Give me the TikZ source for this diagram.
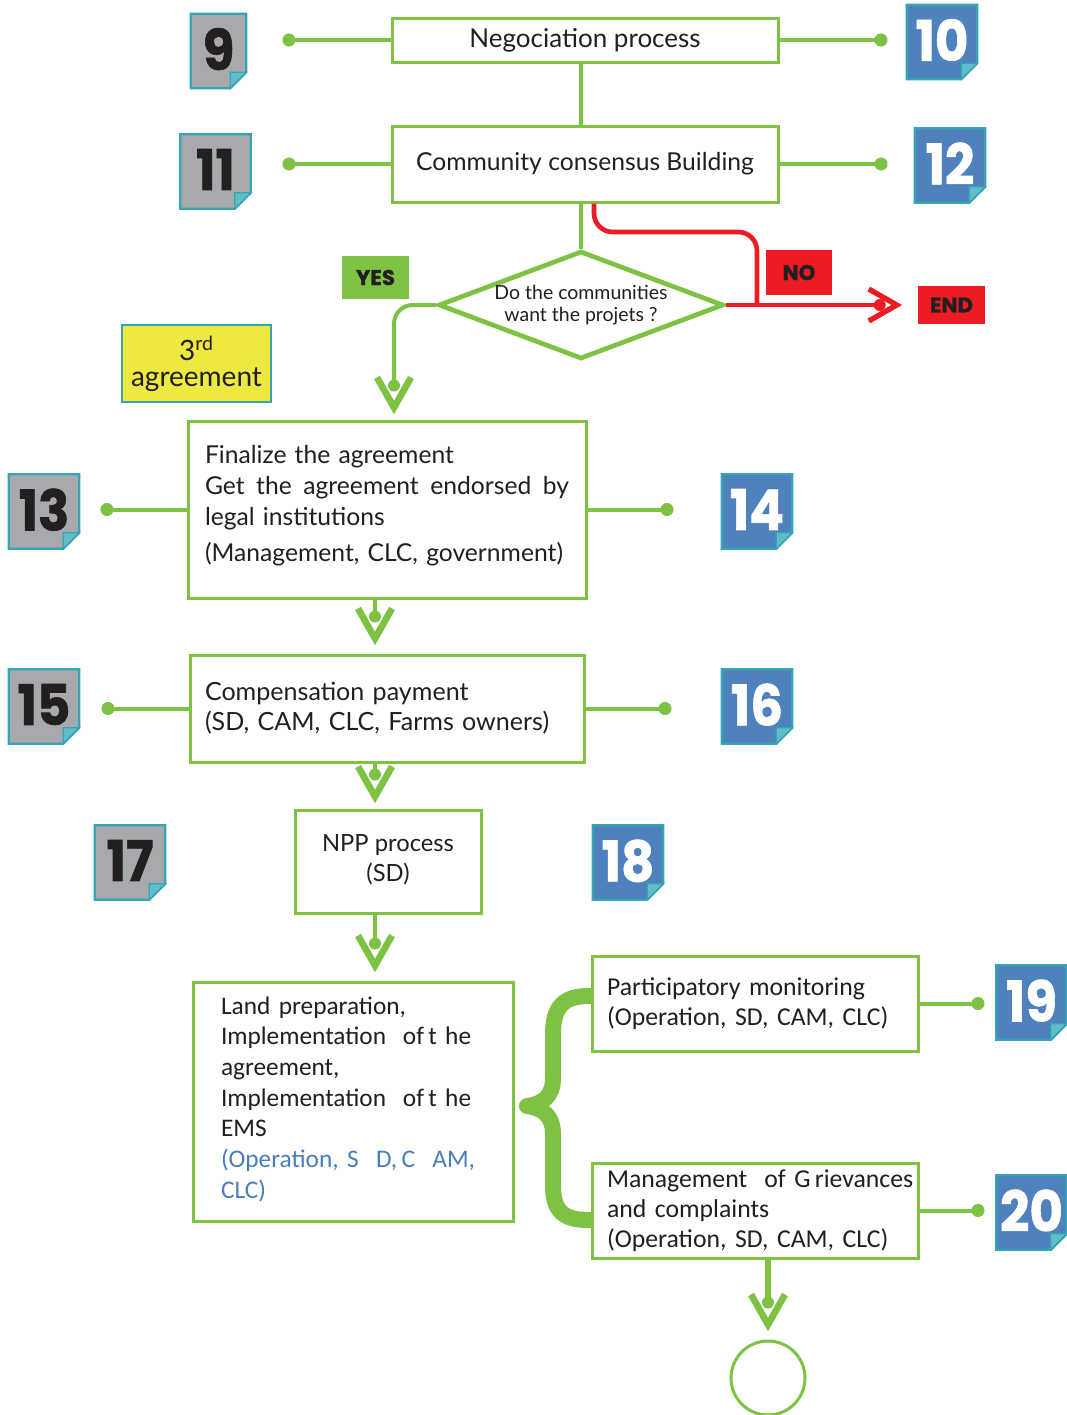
\documentclass[tikz,border=0pt]{standalone}
\usepackage{fontspec}
\usetikzlibrary{calc,shapes.geometric}
\setmainfont{Lato}
\newfontfamily\popfont{Poppins}[BoldFeatures={FakeBold=1.2}]
\newfontfamily\calfont{Carlito}
\definecolor{gcol}{RGB}{125,194,66}
\definecolor{rcol}{RGB}{237,28,36}
\definecolor{tgray}{RGB}{167,169,172}
\definecolor{tblue}{RGB}{79,129,189}
\definecolor{tealc}{RGB}{52,165,181}
\definecolor{tealL}{RGB}{96,190,200}
\definecolor{ylw}{RGB}{237,233,64}
\definecolor{txt}{RGB}{35,31,32}
\definecolor{btxt}{RGB}{74,126,187}
\pgfdeclarelayer{bg}\pgfsetlayers{bg,main}
\tikzset{
 box/.style={draw=gcol, line width=2.25pt, fill=white, text=txt, inner sep=0pt},
 gline/.style={draw=gcol, line width=3pt},
 rline/.style={draw=rcol, line width=3.5pt},
 chev/.style={draw=gcol, line width=5pt, miter limit=10},
 rchev/.style={draw=rcol, line width=4pt, miter limit=10},
 tagbox/.style={minimum width=52.5pt, minimum height=55.5pt, inner sep=0pt, font=\popfont\bfseries\fontsize{42}{42}\selectfont},
 lbl/.style={inner sep=0pt, font=\popfont\bfseries\fontsize{16}{16}\selectfont, text=txt},
}
\newcommand\numtag[5][52.5pt]{%
 \node[tagbox, minimum width=#1] (#2) at (#3) {\raisebox{3pt}{\scalebox{0.92}[1]{#5}}};
 \begin{pgfonlayer}{bg}
 \filldraw[fill=#4, draw=tealc, line width=1.8pt, line join=miter] (#2.north west) -- (#2.north east) -- ($(#2.south east)+(0,-16)$) -- ($(#2.south east)+(-16,0)$) -- (#2.south west) -- cycle;
 \filldraw[fill=tealL, draw=tealc, line width=1pt] ($(#2.south east)+(-16,0)$) -- ($(#2.south east)+(-16,-16)$) -- ($(#2.south east)+(0,-16)$) -- cycle;
 \end{pgfonlayer}}
\newcommand\gchev[1]{%
 \fill[gcol] ($(#1)+(0,-22)$) circle (4.5pt);
 \draw[chev] ($(#1)+(-17,-30)$) -- (#1) -- ($(#1)+(17,-30)$);}
\begin{document}
\begin{tikzpicture}[x=0.75pt,y=-0.75pt]
\useasboundingbox (0,0) rectangle (1067,1415);
% boxes
\node[box, minimum width=289.5pt, minimum height=33pt, font=\fontsize{19.5}{22}\selectfont] (neg) at (585,40) {Negociation process};
\node[box, minimum width=289.5pt, minimum height=57pt, font=\fontsize{18.5}{22}\selectfont] (comm) at (585,164) {\raisebox{-3.5pt}{Community consensus Building}};
\node[diamond, aspect=2.64, draw=gcol, line width=3.5pt, fill=white, minimum width=213.75pt, minimum height=81pt, inner sep=0pt, align=center, font=\fontsize{14.6}{16}\selectfont, text=txt] (dia) at (581,305) {Do the communities\\want the projets ?};
\node[box, minimum width=298.5pt, minimum height=132.75pt, text width=273pt, align=left, font=\fontsize{18.5}{23}\selectfont] (fin) at (387,509.5) {Finalize the agreement\\\makebox[273pt][l]{Get\hfill the\hfill agreement\hfill endorsed\hfill by}\\legal institutions\\[4pt](Management, CLC, government)\rule[-9pt]{0pt}{0pt}};
\node[box, minimum width=295.5pt, minimum height=80.25pt, text width=273pt, align=left, font=\fontsize{18.8}{22.5}\selectfont] (comp) at (387,708.5) {Compensation payment\\(SD, CAM, CLC, Farms owners)};
\node[box, minimum width=139.5pt, minimum height=77.25pt, align=center, font=\fontsize{17.8}{22.5}\selectfont] (npp) at (388,861.5) {NPP process\\(SD)\rule[-6pt]{0pt}{0pt}};
\node[box, minimum width=240pt, minimum height=179.25pt, text width=198pt, align=left, font=\calfont\fontsize{19}{23}\selectfont] (land) at (353,1101.5) {\mbox{Land preparation,}\\\mbox{Implementation\ \ of\,t he}\\\mbox{agreement,}\\\mbox{Implementation\ \ of\,t he}\\\mbox{EMS}\\\mbox{\textcolor{btxt}{(Operation, S\hspace{13pt}D,\,C\hspace{13pt}AM,}}\\\mbox{\textcolor{btxt}{CLC)}}\rule[-6pt]{0pt}{0pt}};
\node[box, minimum width=244.5pt, minimum height=71.25pt, text width=222pt, align=left, font=\calfont\fontsize{19.3}{22.5}\selectfont] (mon) at (755,1003.5) {\mbox{Participatory monitoring}\\\mbox{(Operation, SD, CAM, CLC)}};
\node[box, minimum width=244.5pt, minimum height=71.25pt, text width=222pt, align=left, font=\calfont\fontsize{19.3}{22.5}\selectfont] (grv) at (755,1210.5) {\mbox{Management\ \ of G\,rievances}\\\mbox{and complaints}\\\mbox{(Operation, SD, CAM, CLC)}};
\node[circle, draw=gcol, line width=2.25pt, minimum size=55.5pt, inner sep=0pt] (endc) at (768,1378) {};
% labels
\node[lbl, fill=gcol, minimum width=50.25pt, minimum height=32.25pt] (yes) at (375.5,277.5) {YES};
\node[lbl, fill=rcol, minimum width=49.5pt, minimum height=33.75pt] (no) at (799,272.5) {NO};
\node[lbl, fill=rcol, minimum width=50.25pt, minimum height=28.5pt] (end) at (951.5,305) {END};
\node[fill=ylw, draw=tealc, line width=1.5pt, minimum width=111.75pt, minimum height=57.75pt, inner sep=0pt, align=center, font=\fontsize{21}{19.5}\selectfont, text=txt] (third) at (196.5,363.5) {3\textsuperscript{rd}\\agreement};
% tags
\numtag[41.25pt]{t9}{218.5,51}{tgray}{\color{txt}9}
\numtag{t10}{942,42}{tblue}{\color{white}10}
\numtag{t11}{215.5,171.5}{tgray}{\color{txt}11}
\numtag{t12}{950,165.5}{tblue}{\color{white}12}
\numtag{t13}{44,511.5}{tgray}{\color{txt}13}
\numtag{t14}{757,511.5}{tblue}{\color{white}14}
\numtag{t15}{44,706.5}{tgray}{\color{txt}15}
\numtag{t16}{757,706.5}{tblue}{\color{white}16}
\numtag{t17}{130,862.5}{tgray}{\color{txt}17}
\numtag{t18}{628,862.5}{tblue}{\color{white}18}
\numtag{t19}{1031.5,1002.5}{tblue}{\color{white}19}
\numtag{t20}{1031.5,1212.5}{tblue}{\color{white}20}
% tag connectors
\coordinate (d9) at (289,40); \coordinate (d10) at (881,40);
\coordinate (d11) at (289,164); \coordinate (d12) at (881,164);
\coordinate (d13) at (107,509.5); \coordinate (d14) at (667,509.5);
\coordinate (d15) at (108,708.5); \coordinate (d16) at (665,708.5);
\coordinate (d19) at (978,1003.5); \coordinate (d20) at (978,1210.5);
\draw[gline] (d9) -- (neg.west); \draw[gline] (neg.east) -- (d10);
\draw[gline] (d11) -- (comm.west); \draw[gline] (comm.east) -- (d12);
\draw[gline] (d13) -- (fin.west); \draw[gline] (fin.east) -- (d14);
\draw[gline] (d15) -- (comp.west); \draw[gline] (comp.east) -- (d16);
\draw[gline] (mon.east) -- (d19); \draw[gline] (grv.east) -- (d20);
\foreach \d in {d9,d10,d11,d12,d13,d14,d15,d16,d19,d20} \fill[gcol] (\d) circle (4.9pt);
% main vertical
\draw[gline] (neg.south -| dia.north) -- (comm.north -| dia.north);
\draw[gline] (comm.south -| dia.north) -- (dia.north);
% YES branch
\coordinate (yin) at ($(fin.north)+(7,0)$);
\coordinate (yv) at ($(yin)+(0,-12)$);
\draw[gline, rounded corners=14pt] (dia.west) -| ($(yv)+(0,-22)$);
\gchev{yv}
% down arrows
\coordinate (ax) at (375,0);
\coordinate (c1) at (comp.north -| ax); \coordinate (v1) at ($(c1)+(0,-15)$);
\coordinate (c2) at (npp.north -| ax); \coordinate (v2) at ($(c2)+(0,-12)$);
\coordinate (c3) at (land.north -| ax); \coordinate (v3) at ($(c3)+(0,-15)$);
\coordinate (c4) at (endc.north); \coordinate (v4) at ($(c4)+(0,-15)$);
\draw[gline] (fin.south -| ax) -- ($(v1)+(0,-22)$); \gchev{v1}
\draw[gline] (comp.south -| ax) -- ($(v2)+(0,-22)$); \gchev{v2}
\draw[gline] (npp.south -| ax) -- ($(v3)+(0,-22)$); \gchev{v3}
\draw[gline, line width=4pt] (grv.south -| endc.north) -- ($(v4)+(0,-22)$); \gchev{v4}
% NO branch
\coordinate (nos) at ($(comm.south)+(9,0)$);
\coordinate (nok) at (757,232);
\coordinate (noj) at (757,305);
\coordinate (rv) at ($(end.west)+(-21,0)$);
\coordinate (rdot) at ($(rv)+(-17,0)$);
\draw[rline, rounded corners=14pt] (nos) |- (nok) -- (noj);
\draw[rline] (dia.east) -- (rdot);
\fill[rcol] (rdot) circle (4.5pt);
\draw[rchev] ($(rv)+(-28,-16)$) -- (rv) -- ($(rv)+(-28,16)$);
% brace
\draw[gcol, line width=12pt, line join=round] (592,996) .. controls (562,995) and (553,1008) .. (553,1035) -- (553,1078) .. controls (553,1096) and (543,1104) .. (527,1106) .. controls (543,1108) and (553,1116) .. (553,1134) -- (553,1185) .. controls (553,1210) and (562,1221) .. (592,1220);
\end{tikzpicture}
\end{document}
